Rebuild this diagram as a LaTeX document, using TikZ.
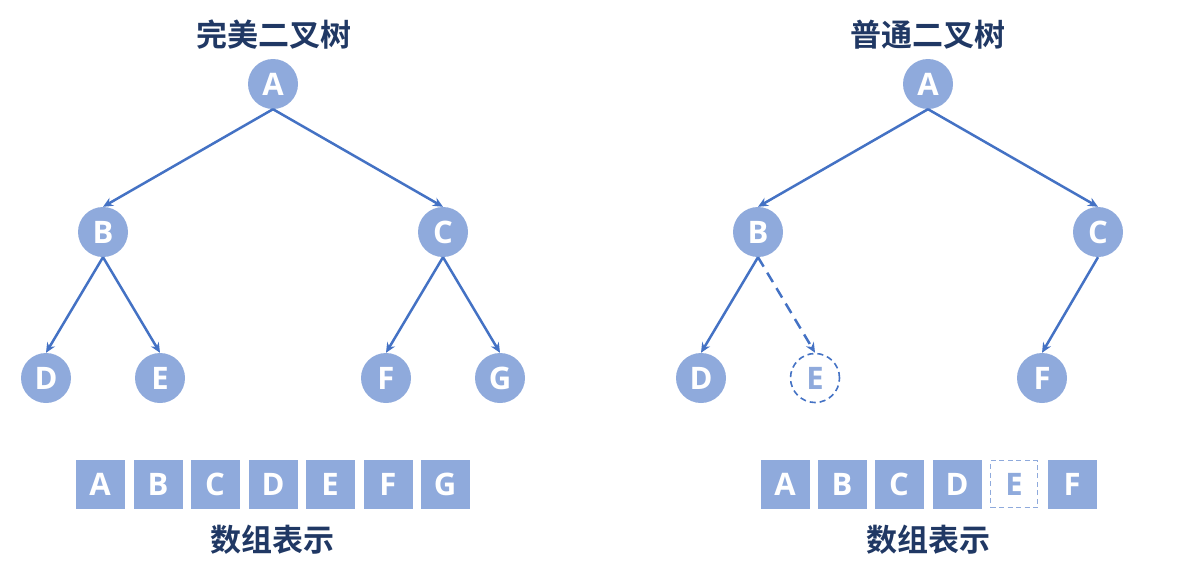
\documentclass[tikz,border=0pt]{standalone}
\usepackage{fontspec}
\setmainfont{Open Sans}
\newfontfamily\cjkb{Noto Sans CJK SC Bold}
\usetikzlibrary{arrows.meta}
\definecolor{nodeblue}{HTML}{8FAADC}
\definecolor{edgeblue}{HTML}{4472C4}
\definecolor{titlenavy}{HTML}{203864}
\tikzset{
  tnode/.style={circle, minimum size=50pt, inner sep=0pt, fill=nodeblue, text=white, font=\fontsize{31}{31}\selectfont\bfseries},
  ghostnode/.style={circle, minimum size=49pt, inner sep=0pt, fill=white, draw=edgeblue, line width=1.6pt, dash pattern=on 6pt off 4pt, text=nodeblue, font=\fontsize{31}{31}\selectfont\bfseries},
  cell/.style={rectangle, minimum size=49pt, inner sep=0pt, fill=nodeblue, text=white, font=\fontsize{31}{31}\selectfont\bfseries},
  ghostcell/.style={rectangle, minimum size=47pt, inner sep=0pt, fill=white, draw=nodeblue, line width=1.8pt, dash pattern=on 5pt off 3.5pt, text=nodeblue, font=\fontsize{31}{31}\selectfont\bfseries},
  edge/.style={draw=edgeblue, line width=2.5pt, -{Stealth[length=10pt,width=9pt]}},
  dedge/.style={edge, dash pattern=on 11pt off 7pt},
  title/.style={text=titlenavy, font=\fontsize{31}{31}\selectfont\cjkb, inner sep=0pt}
}
\begin{document}
\begin{tikzpicture}[x=1pt,y=-1pt]
\useasboundingbox (0,0) rectangle (1177,573);
% left tree
\node[title] (t1) at (274,35) {完美二叉树};
\node[tnode] (lA) at (273,84) {A};
\node[tnode] (lB) at (103,232) {B};
\node[tnode] (lC) at (443,232) {C};
\node[tnode] (lD) at (46,378) {D};
\node[tnode] (lE) at (160,378) {E};
\node[tnode] (lF) at (386,378) {F};
\node[tnode] (lG) at (500,378) {G};
\draw[edge] (lA.south) -- (lB.north);
\draw[edge] (lA.south) -- (lC.north);
\draw[edge] (lB.south) -- (lD.north);
\draw[edge] (lB.south) -- (lE.north);
\draw[edge] (lC.south) -- (lF.north);
\draw[edge] (lC.south) -- (lG.north);
\foreach \l/\x in {A/100,B/158,C/215,D/273,E/330,F/388,G/445}
  \node[cell] (la\l) at (\x,484) {\l};
\node[title] (s1) at (272,540) {数组表示};
% right tree
\node[title] (t2) at (928,35) {普通二叉树};
\node[tnode] (rA) at (928,84) {A};
\node[tnode] (rB) at (758,232) {B};
\node[tnode] (rC) at (1098,232) {C};
\node[tnode] (rD) at (701,378) {D};
\node[ghostnode] (rE) at (815,378) {E};
\node[tnode] (rF) at (1042,378) {F};
\draw[edge] (rA.south) -- (rB.north);
\draw[edge] (rA.south) -- (rC.north);
\draw[edge] (rB.south) -- (rD.north);
\draw[dedge] (rB.south) -- (rE.north);
\draw[edge] (rC.south) -- (rF.north);
\foreach \l/\x in {A/785,B/842,C/899,D/957,F/1072}
  \node[cell] (ra\l) at (\x,484) {\l};
\node[ghostcell] (raE) at (1014,484) {E};
\node[title] (s2) at (928,540) {数组表示};
\end{tikzpicture}
\end{document}
